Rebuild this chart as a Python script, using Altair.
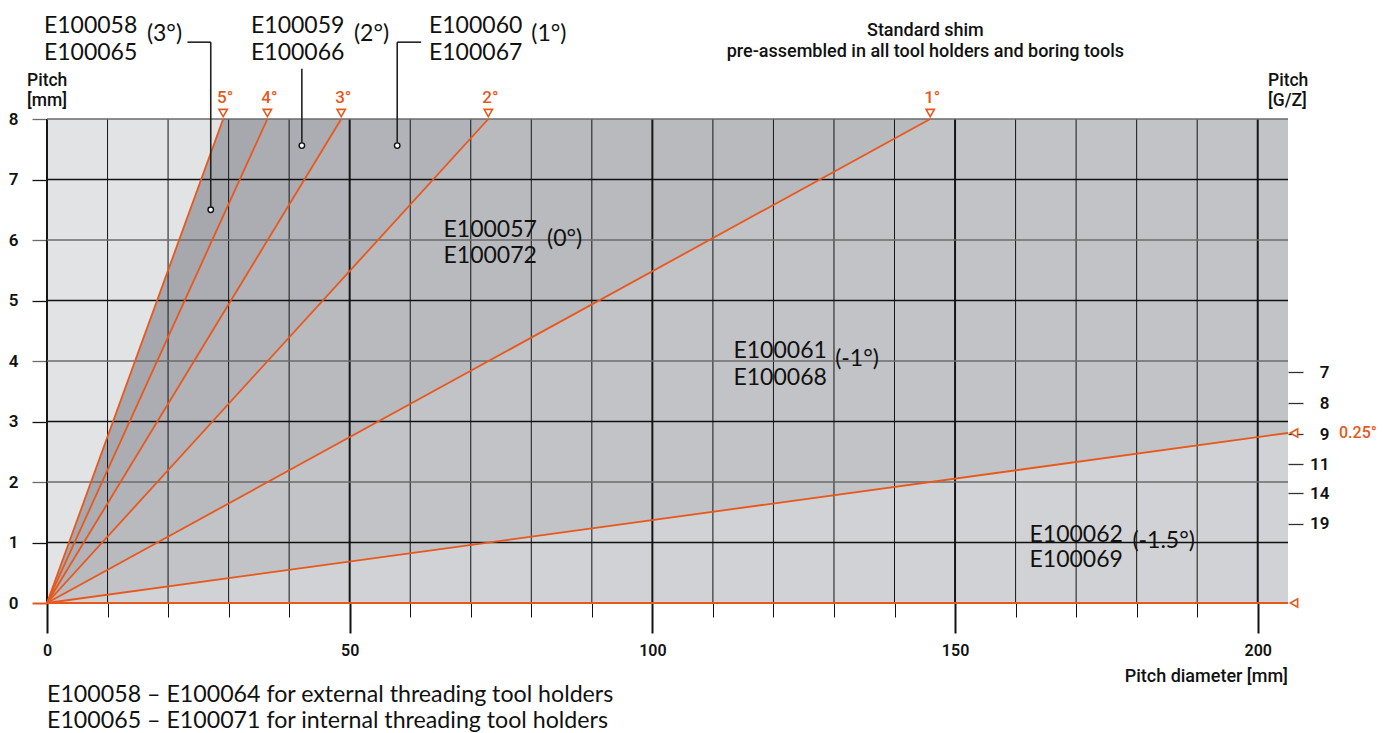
import altair as alt
import pandas as pd

ORANGE = "#e8581c"
X_MAX = 205
Y_MAX = 8
CODE_FONT = "Lato"
UI_FONT = "Roboto"

# shim angle lines: label, pitch diameter and pitch at their end point
line_labels = ["5°", "4°", "3°", "2°", "1°"]
line_x_end = [29.1, 36.4, 48.6, 72.9, 145.9]
line_y_end = [8, 8, 8, 8, 8]
flat_labels = ["0.25°", "0°"]
flat_x_end = [205, 205]
flat_y_end = [2.81, 0]

# fills: background, then the area below each line (painted in order)
region_colors = ["#e2e3e5", "#a6a8ae", "#abadb2", "#b1b3b8", "#b8babe", "#c1c3c7", "#d0d2d5"]

# grid
grid_x = [0, 10, 20, 30, 40, 50, 60, 70, 80, 90, 100, 110, 120, 130, 140, 150,
          160, 170, 180, 190, 200]
grid_x_major = [0, 50, 100, 150, 200]
grid_y = [1, 2, 3, 4, 5, 6, 7, 8]
y_ticks = [0, 1, 2, 3, 4, 5, 6, 7, 8]

# right axis, pitch in threads per inch (G/Z)
gz_pos = [3.81, 3.30, 2.79, 2.29, 1.81, 1.31]
gz_labels = ["7", "8", "9", "11", "14", "19"]

# shim code labels
code_top = ["E100058", "E100059", "E100060", "E100057", "E100061", "E100062"]
code_bottom = ["E100065", "E100066", "E100067", "E100072", "E100068", "E100069"]
code_x = [-0.5, 33.7, 63.1, 65.5, 113.4, 162.3]
code_y_top = [9.42, 9.42, 9.42, 6.05, 4.05, 1.01]
code_y_bottom = [8.98, 8.98, 8.98, 5.62, 3.60, 0.60]
angle_text = ["(3°)", "(2°)", "(1°)", "(0°)", "(-1°)", "(-1.5°)"]
angle_x = [16.5, 50.7, 80.0, 82.6, 130.2, 179.3]
angle_y = [9.41, 9.41, 9.41, 6.02, 4.04, 1.02]

# leader lines and their end circles
leader_x1 = [23.2, 27.05, 42.1, 61.8, 57.85]
leader_y1 = [9.27, 9.27, 8.83, 9.27, 9.27]
leader_x2 = [27.05, 27.05, 42.1, 57.85, 57.85]
leader_y2 = [9.27, 6.55, 7.61, 9.27, 7.61]
dot_x = [27.05, 42.1, 57.85]
dot_y = [6.5, 7.56, 7.56]

# other texts
header_lines = ["Standard shim", "pre-assembled in all tool holders and boring tools"]
header_x = [145.1, 145.1]
header_y = [9.37, 9.02]
unit_left = ["Pitch", "[mm]"]
unit_right = ["Pitch", "[G/Z]"]
unit_y = [8.54, 8.21]
unit_left_x = -3.3
unit_right_x = 201.7
xtitle = "Pitch diameter [mm]"
xtitle_y = -1.31
notes = ["E100058 – E100064 for external threading tool holders",
         "E100065 – E100071 for internal threading tool holders"]
notes_y = [-1.63, -2.07]

xs = alt.Scale(domain=[0, X_MAX], nice=False, zero=False)
ys = alt.Scale(domain=[0, Y_MAX], nice=False, zero=False)


def X(f, axis=None):
    return alt.X(f, type="quantitative", scale=xs, axis=axis)


def Y(f, axis=None):
    return alt.Y(f, type="quantitative", scale=ys, axis=axis, stack=None)


layers = []

# background and regions
poly_x = [[0, X_MAX]]
poly_y = [[Y_MAX, Y_MAX]]
for xe, ye in zip(line_x_end, line_y_end):
    poly_x.append([0, xe, X_MAX])
    poly_y.append([0, ye, Y_MAX])
poly_x.append([0, flat_x_end[0]])
poly_y.append([0, flat_y_end[0]])
for px, py, col in zip(poly_x, poly_y, region_colors):
    df = pd.DataFrame({"x": px, "y": py})
    layers.append(alt.Chart(df).mark_area(color=col, opacity=1).encode(
        x=X("x"), y=Y("y"), y2=alt.datum(0)))

# vertical grid with bottom axis
vdf = pd.DataFrame({"x": grid_x,
                    "w": [2 if v in grid_x_major else 1 for v in grid_x]})
x_axis = alt.Axis(
    values=grid_x, grid=False, domain=False,
    tickSize={"condition": {"test": "datum.value % 50 != 0", "value": 14}, "value": 30},
    tickWidth={"condition": {"test": "datum.value % 50 != 0", "value": 1}, "value": 2},
    tickColor="#111",
    labelExpr="datum.value % 50 == 0 ? datum.label : ''",
    labelFont=UI_FONT, labelFontSize=16, labelFontWeight=600, labelColor="#111",
    labelPadding=9, labelFlush=False, title=None)
layers.append(alt.Chart(vdf).mark_rule(color="#161616").encode(
    x=X("x", x_axis), size=alt.Size("w:Q", scale=None, legend=None)))

# horizontal grid with left axis
hdf = pd.DataFrame({"y": grid_y, "shade": ["g" if v % 2 == 0 else "k" for v in grid_y]})
y_axis = alt.Axis(
    orient="left", values=y_ticks, grid=False, domain=False, tickSize=15,
    tickWidth={"condition": {"test": "datum.value == 0", "value": 2}, "value": 1.3},
    tickColor={"condition": [{"test": "datum.value == 0", "value": ORANGE},
                             {"test": "datum.value % 2 == 0", "value": "#6b6b6b"}],
               "value": "#111"},
    labelFont=UI_FONT, labelFontSize=17, labelFontWeight=600, labelColor="#111",
    labelPadding=14, labelBaseline="middle", title=None)
layers.append(alt.Chart(hdf).mark_rule(strokeWidth=1.3).encode(
    y=Y("y", y_axis),
    color=alt.Color("shade:N", scale=alt.Scale(domain=["g", "k"], range=["#6b6b6b", "#111"]),
                    legend=None)))

# orange shim lines
ldf = pd.DataFrame({"x0": 0, "y0": 0,
                    "x1": line_x_end + flat_x_end, "y1": line_y_end + flat_y_end})
layers.append(alt.Chart(ldf).mark_rule(color=ORANGE, strokeWidth=1.8).encode(
    x=X("x0"), y=Y("y0"), x2="x1", y2="y1"))

# top triangles + labels
tdf = pd.DataFrame({"x": line_x_end, "y": line_y_end, "t": line_labels})
layers.append(alt.Chart(tdf).mark_point(shape="triangle-down", filled=True, fill="white",
                                         stroke=ORANGE, strokeWidth=1.6, size=70, opacity=1,
                                         yOffset=-6).encode(x=X("x"), y=Y("y")))
layers.append(alt.Chart(tdf).mark_text(color=ORANGE, font=UI_FONT, fontSize=17, fontWeight=500,
                                        align="center", baseline="alphabetic", dy=-16, dx=2).encode(
    x=X("x"), y=Y("y"), text="t:N"))

# right triangles with right axis
rdf = pd.DataFrame({"x": flat_x_end, "y": flat_y_end, "t": flat_labels})
lab_expr = ("[" + ",".join("'%s'" % s for s in gz_labels) + "][indexof(["
            + ",".join(str(p) for p in gz_pos) + "], datum.value)]")
r_axis = alt.Axis(orient="right", values=gz_pos, labelExpr=lab_expr, grid=False, domain=False,
                  tickSize=15, tickWidth=1.3, tickColor="#333", labelAlign="right",
                  labelPadding=26, labelBaseline="middle",
                  labelFont=UI_FONT, labelFontSize=17, labelFontWeight=600, labelColor="#111",
                  title=None)
layers.append(alt.Chart(rdf).mark_point(shape="triangle-left", filled=True, fill="white",
                                         stroke=ORANGE, strokeWidth=1.6, size=70, opacity=1,
                                         xOffset=6).encode(x=X("x"), y=Y("y", r_axis)))
layers.append(alt.Chart(rdf.iloc[:1]).mark_text(color=ORANGE, font=UI_FONT, fontSize=16,
                                                 fontWeight=500, align="left", baseline="middle",
                                                 dx=51).encode(x=X("x"), y=Y("y"), text="t:N"))

# leader lines and circles
sdf = pd.DataFrame({"x1": leader_x1, "y1": leader_y1, "x2": leader_x2, "y2": leader_y2})
layers.append(alt.Chart(sdf).mark_rule(color="#222", strokeWidth=1.6).encode(
    x=X("x1"), y=Y("y1"), x2="x2", y2="y2"))
ddf = pd.DataFrame({"x": dot_x, "y": dot_y})
layers.append(alt.Chart(ddf).mark_point(shape="circle", filled=True, fill="white", stroke="#111",
                                         strokeWidth=1.4, size=30, opacity=1).encode(
    x=X("x"), y=Y("y")))

# code labels
cdf = pd.DataFrame({"x": code_x + code_x, "y": code_y_top + code_y_bottom,
                    "t": code_top + code_bottom})
layers.append(alt.Chart(cdf).mark_text(font=CODE_FONT, fontSize=23, color="#111", align="left",
                                        baseline="alphabetic").encode(
    x=X("x"), y=Y("y"), text="t:N"))
adf = pd.DataFrame({"x": angle_x, "y": angle_y, "t": angle_text})
layers.append(alt.Chart(adf).mark_text(font=CODE_FONT, fontSize=23, color="#111", align="left",
                                        baseline="middle").encode(
    x=X("x"), y=Y("y"), text="t:N"))

# header, units, x title, notes
hd = pd.DataFrame({"x": header_x, "y": header_y, "t": header_lines})
layers.append(alt.Chart(hd).mark_text(font=UI_FONT, fontSize=18, fontWeight=500, color="#111",
                                       align="center", baseline="alphabetic").encode(
    x=X("x"), y=Y("y"), text="t:N"))
ud = pd.DataFrame({"x": [unit_left_x] * 2 + [unit_right_x] * 2, "y": unit_y + unit_y,
                   "t": unit_left + unit_right})
layers.append(alt.Chart(ud).mark_text(font=UI_FONT, fontSize=17.5, fontWeight=500, color="#111",
                                       align="left", baseline="alphabetic").encode(
    x=X("x"), y=Y("y"), text="t:N"))
xt = pd.DataFrame({"x": [X_MAX], "y": [xtitle_y], "t": [xtitle]})
layers.append(alt.Chart(xt).mark_text(font=UI_FONT, fontSize=18, fontWeight=500, color="#111",
                                       align="right", baseline="alphabetic").encode(
    x=X("x"), y=Y("y"), text="t:N"))
nd = pd.DataFrame({"x": [0, 0], "y": notes_y, "t": notes})
layers.append(alt.Chart(nd).mark_text(font=CODE_FONT, fontSize=23.2, color="#111", align="left",
                                       baseline="alphabetic").encode(
    x=X("x"), y=Y("y"), text="t:N"))

chart = (alt.layer(*layers)
         .properties(width=1241, height=484,
                     padding={"left": 39, "top": 111, "right": 88, "bottom": 130},
                     autosize=alt.AutoSizeParams(type="none"),
                     background="white")
         .resolve_axis(x="independent", y="independent")
         .configure_view(stroke=None))

chart.save("out.html", embed_options={"renderer": "svg", "actions": False})
